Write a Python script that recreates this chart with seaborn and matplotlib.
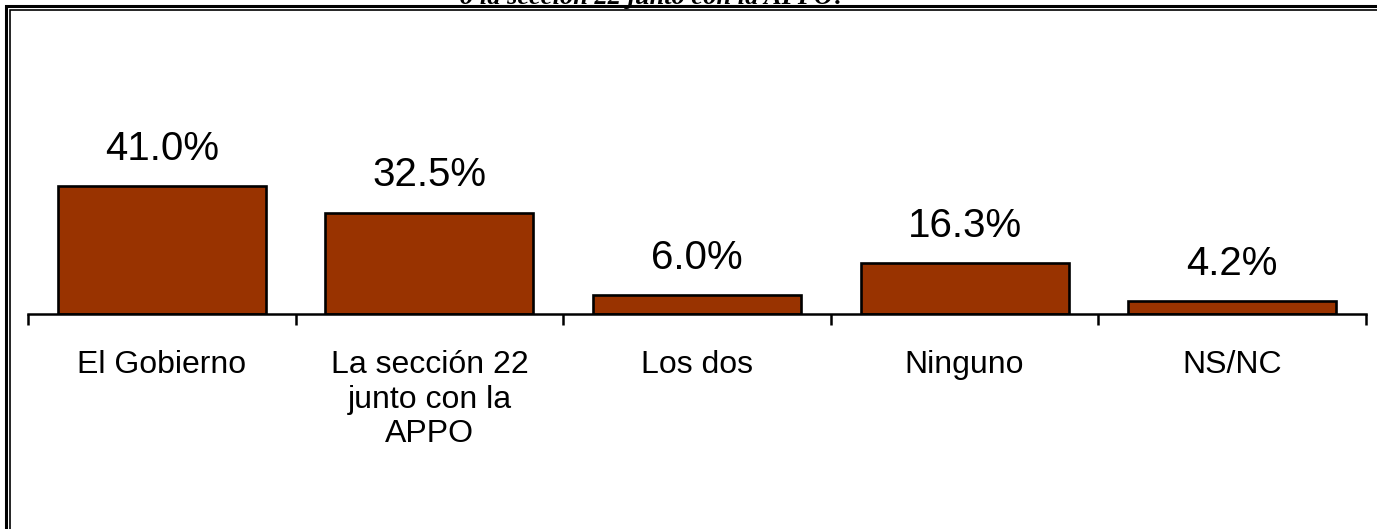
import seaborn as sns
import matplotlib.pyplot as plt
import matplotlib.patches as mpatches
import numpy as np
import pandas as pd

# data
categorias = ['El Gobierno', 'La sección 22\njunto con la\nAPPO', 'Los dos', 'Ninguno', 'NS/NC']
valores = [41.0, 32.5, 6.0, 16.3, 4.2]
etiquetas = ['41.0%', '32.5%', '6.0%', '16.3%', '4.2%']
titulo = 'o la sección 22 junto con la APPO?'

df = pd.DataFrame({'cat': categorias, 'val': valores})

sns.set_style('white')
plt.rcParams['font.family'] = ['Liberation Sans', 'DejaVu Sans']
plt.rcParams['text.color'] = 'black'
plt.rcParams['xtick.color'] = 'black'
plt.rcParams['axes.edgecolor'] = 'black'

W, H = 1377, 529
fig = plt.figure(figsize=(W / 100, H / 100), dpi=100)

# axes placed in pixel terms: baseline at y=314, x from 28 to 1366
x0, x1 = 28, 1366
base = 314
ymax = 80
pxper = 3.12
top = base - ymax * pxper
ax = fig.add_axes([x0 / W, 1 - base / H, (x1 - x0) / W, (base - top) / H])

sns.barplot(data=df, x='cat', y='val', color='#993300', saturation=1,
            width=0.777, edgecolor='black', linewidth=1.9, ax=ax)

ax.set_xlim(-0.5, len(categorias) - 0.5)
ax.set_ylim(0, ymax)

for i, (v, t) in enumerate(zip(valores, etiquetas)):
    ax.annotate(t, (i, v), xytext=(0, 19), textcoords='offset points',
                ha='center', va='baseline', fontsize=29, color='black')

for s in ['top', 'right', 'left']:
    ax.spines[s].set_visible(False)
ax.spines['bottom'].set_linewidth(1.8)
ax.set_yticks([])

# tick marks at the category boundaries, labels at the centres
ax.set_xticks(np.arange(len(categorias) + 1) - 0.5)
ax.set_xticklabels([])
ax.tick_params(axis='x', which='major', bottom=True, length=8, width=1.8,
               direction='out', color='black')
# pad every label to three lines so the first lines share one baseline
nlin = max(c.count('\n') for c in categorias)
rotulos = [c + '\n' * (nlin - c.count('\n')) for c in categorias]
ax.set_xticks(np.arange(len(categorias)), minor=True)
ax.set_xticklabels(rotulos, minor=True, fontsize=23, linespacing=1.18,
                   va='baseline', color='black')
ax.tick_params(axis='x', which='minor', bottom=True, length=0, pad=92)
ax.set_xlabel('')
ax.set_ylabel('')

# double frame around the chart
fig.patches.append(mpatches.Rectangle((6 / W, -0.1), 1.2, (H - 6) / H + 0.1,
                                      transform=fig.transFigure, fill=False,
                                      edgecolor='black', linewidth=2.2))
fig.patches.append(mpatches.Rectangle((10 / W, -0.1), 1.2, (H - 10) / H + 0.1,
                                      transform=fig.transFigure, fill=False,
                                      edgecolor='black', linewidth=1.2))

# title of the slide, cut off at the top edge
fig.text(653 / W, 1 - 4 / H, titulo, ha='center', va='baseline',
         fontsize=19, fontweight='bold', fontstyle='italic', color='black',
         family=['Liberation Serif', 'DejaVu Serif'])

fig.savefig('out.png', dpi=100)
